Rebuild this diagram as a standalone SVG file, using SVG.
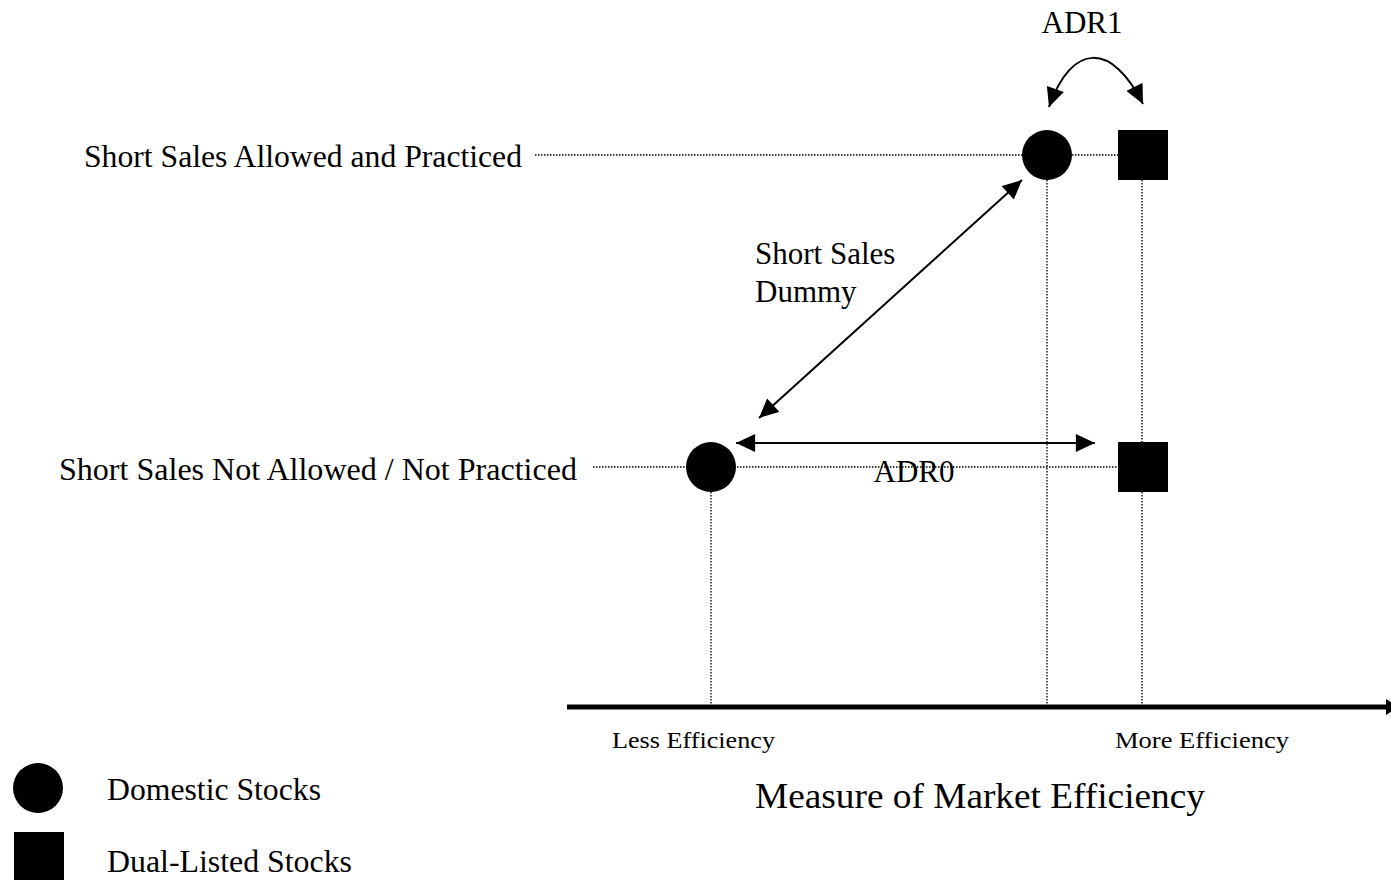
<svg xmlns="http://www.w3.org/2000/svg" width="1391" height="880" viewBox="0 0 1391 880">
<style>
text{font-family:"Liberation Serif","Times New Roman",serif;fill:#000}
.lbl{font-size:31px}
.sm{font-size:23px}
.big{font-size:35px}
.dot{stroke:#000;stroke-width:1.3;stroke-dasharray:1.5 1.5;fill:none}
.arr{stroke:#000;stroke-width:2;fill:none}
</style>
<defs>
<marker id="ah" markerUnits="userSpaceOnUse" markerWidth="20" markerHeight="18" refX="17" refY="8" orient="auto-start-reverse" viewBox="0 0 17 16">
<path d="M0,0 L17,8 L0,16 Z" fill="#000"/>
</marker>
</defs>
<g id="guides">
<line class="dot" x1="535" y1="155" x2="1118" y2="155"/>
<line class="dot" x1="593" y1="467" x2="1118" y2="467"/>
<line class="dot" x1="711" y1="492" x2="711" y2="705"/>
<line class="dot" x1="1047" y1="180" x2="1047" y2="705"/>
<line class="dot" x1="1142" y1="180" x2="1142" y2="705"/>
</g>
<g id="axis">
<line x1="567" y1="707" x2="1386" y2="707" stroke="#000" stroke-width="5"/>
<path d="M1386,699 L1398,707 L1386,715 Z" fill="#000"/>
<text class="sm" x="612" y="748" textLength="163" lengthAdjust="spacingAndGlyphs">Less Efficiency</text>
<text class="sm" x="1115" y="748" textLength="174" lengthAdjust="spacingAndGlyphs">More Efficiency</text>
<text class="big" x="755" y="808" textLength="450" lengthAdjust="spacingAndGlyphs">Measure of Market Efficiency</text>
</g>
<g id="label-allowed"><text class="lbl" x="84" y="167" textLength="438" lengthAdjust="spacingAndGlyphs">Short Sales Allowed and Practiced</text></g>
<g id="label-notallowed"><text class="lbl" x="59" y="480" textLength="518" lengthAdjust="spacingAndGlyphs">Short Sales Not Allowed / Not Practiced</text></g>
<g id="dom-top"><circle cx="1047" cy="155" r="25" fill="#000"/></g>
<g id="dual-top"><rect x="1118" y="130" width="50" height="50" fill="#000"/></g>
<g id="dom-bottom"><circle cx="711" cy="467" r="25" fill="#000"/></g>
<g id="dual-bottom"><rect x="1118" y="442" width="50" height="50" fill="#000"/></g>
<g id="connectors">
<path class="arr" d="M1049,107 C1072,42 1112,42 1143,104" marker-start="url(#ah)" marker-end="url(#ah)"/>
<line class="arr" x1="1022" y1="180" x2="759" y2="418" marker-start="url(#ah)" marker-end="url(#ah)"/>
<line class="arr" x1="736" y1="443" x2="1095" y2="443" marker-start="url(#ah)" marker-end="url(#ah)"/>
</g>
<g id="conn-labels">
<text class="lbl" x="1082" y="33" text-anchor="middle">ADR1</text>
<text class="lbl" x="914" y="482" text-anchor="middle">ADR0</text>
<text class="lbl" x="755" y="264">Short Sales</text>
<text class="lbl" x="755" y="302">Dummy</text>
</g>
<g id="legend-domestic">
<circle cx="38" cy="788" r="25" fill="#000"/>
<text class="lbl" x="107" y="800" textLength="214" lengthAdjust="spacingAndGlyphs">Domestic Stocks</text>
</g>
<g id="legend-dual">
<rect x="14" y="832" width="50" height="50" fill="#000"/>
<text class="lbl" x="107" y="872" textLength="245" lengthAdjust="spacingAndGlyphs">Dual-Listed Stocks</text>
</g>
</svg>
